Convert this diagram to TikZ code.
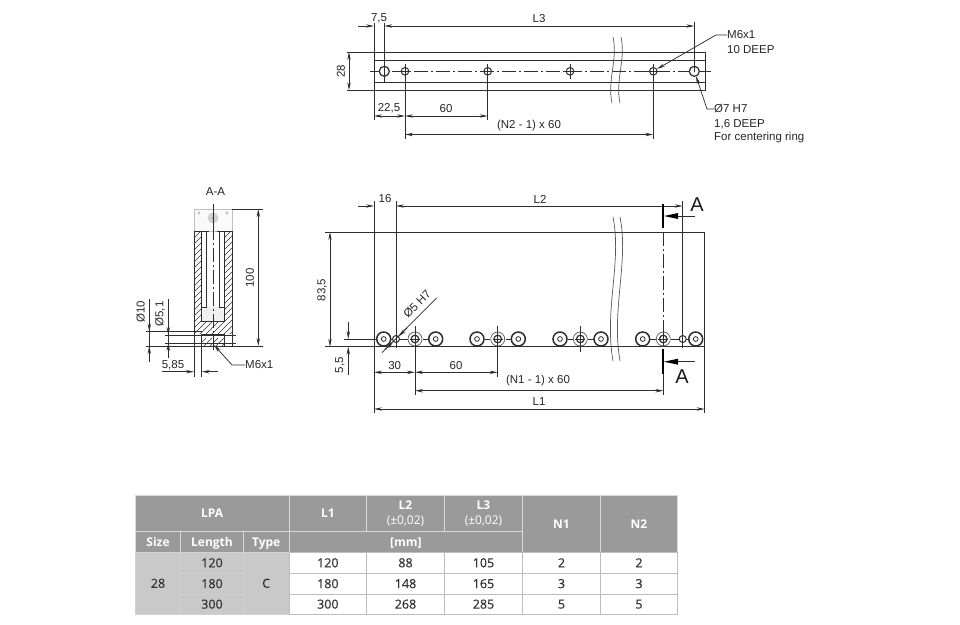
\documentclass[tikz,border=0pt]{standalone}
\usepackage{fontspec}
\setmainfont{Liberation Sans}
\newfontfamily\tablefont{Open Sans}
\newfontfamily\tablemed{Open Sans}[FakeBold=0.5]
\usetikzlibrary{arrows.meta}
\definecolor{linegray}{HTML}{2E2E2E}
\definecolor{headgray}{HTML}{9A9A9A}
\definecolor{bodygray}{HTML}{C9C9C9}
\definecolor{gridgray}{HTML}{BDBDBD}
\tikzset{
  >={Stealth[length=8pt,width=3.4pt]},
  part/.style={draw=linegray,line width=1pt},
  dimline/.style={draw=linegray,line width=.75pt},
  thinpart/.style={draw=linegray!80,line width=.7pt},
  axisline/.style={draw=linegray,line width=.75pt,dash pattern=on 14pt off 3pt on 2pt off 3pt},
  cutline/.style={draw=black,line width=2pt},
  lab/.style={font=\fontsize{11.5}{13}\selectfont,text=black!85,inner sep=0pt},
  biglab/.style={font=\fontsize{20}{22}\selectfont,text=black!90,inner sep=0pt},
  headcell/.style={fill=headgray,draw=white!85!black,line width=.8pt},
  bodycell/.style={fill=white,draw=gridgray,line width=.8pt},
  sidecell/.style={fill=bodygray,draw=gridgray!70!white,line width=.8pt},
  headtext/.style={font=\tablefont\fontsize{12}{14}\bfseries\selectfont,text=white,align=center,inner sep=0pt},
  subhead/.style={headtext,text height=9pt,text depth=0pt},
  celltext/.style={font=\tablemed\fontsize{12.5}{14}\selectfont,text=black!80,inner sep=0pt}
}
\begin{document}
\begin{tikzpicture}[x=1pt,y=-1pt]
  \useasboundingbox (0,0) rectangle (960,624);

  % Top view
  \draw[part] (347,52) -- (705,52) -- (705,90.3) -- (347,90.3);
  \draw[part] (374,60) -- (705,60);
  \draw[part] (374,82.3) -- (705,82.3);
  \draw[axisline] (370,71.3) -- (711,71.3);
  \foreach \hx in {384.3,694.3}
    \draw[part,line width=1.2pt,fill=white] (\hx,71.3) circle[radius=5];
  \foreach \hx in {405,487.7,570,653.3} {
    \draw[part,fill=white] (\hx,71.3) circle[radius=3.8];
    \draw[dimline] (\hx-5,71.3) -- (\hx+5,71.3);
    \draw[dimline] (\hx,63.5) -- (\hx,79);
  }
  \draw[thinpart] (613,37) .. controls (618,60) and (607,80) .. (612,103);
  \draw[thinpart] (621,37) .. controls (626,60) and (615,80) .. (620,103);

  % Top view dimensions
  \draw[dimline] (374,23) -- (374,120);
  \draw[dimline] (384.3,23) -- (384.3,82);
  \draw[dimline] (694.3,22) -- (694.3,72);
  \draw[dimline] (405,64) -- (405,139);
  \draw[dimline] (487.7,64) -- (487.7,120);
  \draw[dimline] (653.3,64) -- (653.3,139);
  \draw[dimline,->] (358,26) -- (374,26);
  \draw[dimline,<->] (384.3,26) -- (694.3,26);
  \draw[dimline,<->] (349,52) -- (349,90.3);
  \draw[dimline,<->] (374,116) -- (405,116);
  \draw[dimline,<->] (405,116) -- (487.7,116);
  \draw[dimline,<->] (405,134.5) -- (653.3,134.5);
  \node[lab] (topa) at (379,18) {7,5};
  \node[lab] (topb) at (539,19) {L3};
  \node[lab,rotate=90] (topc) at (341,71) {28};
  \node[lab] (topd) at (389,108) {22,5};
  \node[lab] (tope) at (446,109) {60};
  \node[lab] (topf) at (529,126) {(N2 - 1) x 60};

  % Top view leaders
  \node[lab,anchor=west] (thread) at (727,35) {M6x1};
  \node[lab,anchor=west] (threaddeep) at (727,50) {10 DEEP};
  \node[lab,anchor=west] (ring) at (714,109) {Ø7 H7};
  \node[lab,anchor=west] (ringdeep) at (714,124) {1,6 DEEP};
  \node[lab,anchor=west] (ringuse) at (714,138) {For centering ring};
  \draw[dimline,->] (thread.west) -- (716,35) -- (657,69);
  \draw[dimline,->] (ring.west) -- (707,109) -- (696,76);

  % Front view
  \draw[part] (325,232) -- (704.7,232);
  \draw[part] (325,346.7) -- (704.7,346.7);
  \draw[part] (704.7,232) -- (704.7,413);
  \draw[part] (374,201) -- (374,413);
  \draw[axisline] (663.3,232) -- (663.3,346.7);
  \foreach \sa/\sb in {344/376,391/408,423/428,485/490,506/511,568/573,588/594,650/656,671/690}
    \draw[dimline] (\sa,339) -- (\sb,339);
  \foreach \hx in {383.7,435.7,477,518.3,560,601,642.7,695.7} {
    \draw[part,line width=1.5pt,fill=white] (\hx,339) circle[radius=7];
    \draw[part,line width=.8pt] (\hx,339) circle[radius=2.4];
  }
  \foreach \hx in {415,497.7,580.3,663.3} {
    \draw[thinpart,fill=white] (\hx,339) circle[radius=7];
    \draw[part,line width=1.2pt] (\hx,339) circle[radius=3.8];
    \draw[dimline] (\hx-5,339) -- (\hx+5,339);
  }
  \foreach \hx in {396,682.7}
    \draw[part,fill=white] (\hx,339) circle[radius=3.5];
  \draw[thinpart] (613,217) .. controls (622,262) and (604,310) .. (613,361);
  \draw[thinpart] (620,217) .. controls (629,262) and (611,310) .. (620,361);

  % Front view dimensions
  \draw[dimline] (396,201) -- (396,348);
  \draw[dimline] (682.7,201) -- (682.7,348);
  \draw[dimline] (415,326) -- (415,395);
  \draw[dimline] (497.7,326) -- (497.7,377);
  \draw[dimline] (580.3,326) -- (580.3,352);
  \draw[dimline] (663.3,326) -- (663.3,346);
  \draw[dimline] (663.3,372) -- (663.3,395);
  \draw[dimline,->] (358,206) -- (374,206);
  \draw[dimline,<->] (396,206) -- (682.7,206);
  \draw[dimline,<->] (330,232) -- (330,346.7);
  \draw[dimline,->] (348.3,322) -- (348.3,339);
  \draw[dimline,->] (348.3,375) -- (348.3,346.7);
  \draw[dimline,<->] (374,372.3) -- (415,372.3);
  \draw[dimline,<->] (415,372.3) -- (497.7,372.3);
  \draw[dimline,<->] (415,390.7) -- (663.3,390.7);
  \draw[dimline,<->] (374,409) -- (704.7,409);
  \draw[dimline] (382,352.7) -- (436.7,298);
  \draw[dimline,->] (385,349.7) -- (393.5,341.5);
  \draw[dimline,->] (407,328) -- (398.5,336.5);
  \node[lab] (fronta) at (385,199) {16};
  \node[lab] (frontb) at (540,199) {L2};
  \node[lab,rotate=90] (frontc) at (322,290) {83,5};
  \node[lab,rotate=90] (frontd) at (340,365) {5,5};
  \node[lab] (fronte) at (394.7,366) {30};
  \node[lab] (frontf) at (456,366) {60};
  \node[lab] (frontg) at (538,381) {(N1 - 1) x 60};
  \node[lab] (fronth) at (539,402) {L1};
  \node[lab,rotate=45] (frontj) at (417,304) {Ø5 H7};

  % Section marks
  \draw[cutline] (663.3,204) -- (663.3,228);
  \draw[cutline] (663.3,349) -- (663.3,374);
  \draw[dimline] (695,216) -- (672,216);
  \draw[dimline] (695,361.7) -- (672,361.7);
  \fill[black] (664,216) -- (678,213) -- (678,219) -- cycle;
  \fill[black] (664,361.7) -- (678,358.7) -- (678,364.7) -- cycle;
  \node[biglab] (markup) at (697,205) {A};
  \node[biglab] (markdown) at (682,377) {A};

  % Section A-A, faded end plate
  \draw[draw=black!25,fill=black!2,line width=.5pt] (194,209) rectangle (232,231.7);
  \fill[black!18] (213,218) circle[radius=5.5];
  \fill[black!50] (213,218) circle[radius=1];
  \foreach \hx in {199,227}
    \draw[black!30,line width=.5pt] (\hx,213) circle[radius=1.3];

  % Section A-A, hatched walls
  \begin{scope}
    \clip (194,231.7) -- (201.7,231.7) -- (201.7,321.7) -- (224.3,321.7) -- (224.3,231.7)
      -- (232.7,231.7) -- (232.7,334) -- (194,334) -- cycle;
    \foreach \hy in {230,236,...,380}
      \draw[linegray,line width=.65pt] (190,\hy) -- (240,\hy-50);
  \end{scope}
  \begin{scope}
    \clip (202,338) rectangle (224,346);
    \foreach \hy in {330,336,...,400}
      \draw[linegray,line width=.65pt] (190,\hy) -- (240,\hy-50);
  \end{scope}
  \fill[black!6] (201.7,321.7) .. controls (202,312) and (204,307) .. (206.7,307)
    -- (219.3,307) .. controls (222,307) and (224,312) .. (224.3,321.7) -- cycle;
  \draw[part] (194,346) -- (194,231.7) -- (201.7,231.7) -- (201.7,321.7) -- (224.3,321.7)
    -- (224.3,231.7) -- (232.7,231.7) -- (232.7,346) -- cycle;
  \draw[part] (206.7,231.7) -- (206.7,307) -- (201.7,307);
  \draw[part] (219.3,231.7) -- (219.3,307) -- (224.3,307);
  \draw[part] (201.7,231.7) -- (209,231.7);
  \draw[part] (217,231.7) -- (224.3,231.7);
  \draw[part] (201.7,334) rectangle (224.3,346);
  \draw[dimline] (213,204) -- (213,226);
  \draw[axisline] (213,226) -- (213,350);

  % Section A-A dimensions
  \draw[dimline] (146,331.7) -- (201.7,331.7);
  \draw[dimline] (146,346) -- (194,346);
  \draw[dimline] (165,335) -- (236,335);
  \draw[dimline] (165,343) -- (236,343);
  \draw[dimline] (149.3,299) -- (149.3,361.7);
  \draw[dimline] (168.3,299) -- (168.3,358);
  \draw[dimline,->] (149.3,320) -- (149.3,331.7);
  \draw[dimline,->] (149.3,358) -- (149.3,346);
  \draw[dimline,->] (168.3,323) -- (168.3,335);
  \draw[dimline,->] (168.3,355) -- (168.3,343);
  \draw[dimline] (194,346) -- (194,377);
  \draw[dimline] (201.7,346) -- (201.7,377);
  \draw[dimline,->] (162,371.7) -- (194,371.7);
  \draw[dimline,->] (218,371.7) -- (201.7,371.7);
  \draw[dimline] (232,209) -- (263,209);
  \draw[dimline] (233,346) -- (263,346);
  \draw[dimline,<->] (258.3,209) -- (258.3,346);
  \node[lab] (secname) at (215.5,192) {A-A};
  \node[lab,rotate=90] (seca) at (140.7,312) {Ø10};
  \node[lab,rotate=90] (secb) at (160,314) {Ø5,1};
  \node[lab] (secc) at (173,365) {5,85};
  \node[lab,rotate=90] (secd) at (250,278) {100};
  \node[lab,anchor=west] (secthread) at (245,365) {M6x1};
  \draw[dimline,->] (secthread.west) -- (232,365) -- (214,345);

  % Table head
  \draw[headcell] (135.3,495.7) rectangle node[headtext] (tlpa) {LPA} (289,531.3);
  \draw[headcell] (289,495.7) rectangle node[headtext] (tlone) {L1} (366.7,531.3);
  \draw[headcell] (366.7,495.7) rectangle node[headtext] (tltwo) {L2\\[1.5pt]{\mdseries (±0,02)}} (444.3,531.3);
  \draw[headcell] (444.3,495.7) rectangle node[headtext] (tlthree) {L3\\[1.5pt]{\mdseries (±0,02)}} (522.7,531.3);
  \draw[headcell] (522.7,495.7) rectangle node[headtext] (tnone) {N1} (600.3,552.3);
  \draw[headcell] (600.3,495.7) rectangle node[headtext] (tntwo) {N2} (677.7,552.3);
  \draw[headcell] (135.3,531.3) rectangle node[subhead] (tsize) {Size} (180.7,552.3);
  \draw[headcell] (180.7,531.3) rectangle node[subhead] (tlength) {Length} (243.3,552.3);
  \draw[headcell] (243.3,531.3) rectangle node[subhead] (ttype) {Type} (289,552.3);
  \draw[headcell] (289,531.3) rectangle node[subhead] (tmm) {[mm]} (522.7,552.3);

  % Table body
  \draw[sidecell] (135.3,552.3) rectangle node[celltext] (tsizeval) {28} (180.7,614.3);
  \draw[sidecell] (243.3,552.3) rectangle node[celltext] (ttypeval) {C} (289,614.3);
  \foreach \ya/\yb/\la/\lb/\lc/\ld/\ne [count=\r] in
      {552.3/573.3/120/120/88/105/2,573.3/594/180/180/148/165/3,594/614.3/300/300/268/285/5} {
    \draw[sidecell] (180.7,\ya) rectangle node[celltext] (tlen\r) {\la} (243.3,\yb);
    \draw[bodycell] (289,\ya) rectangle node[celltext] (tla\r) {\lb} (366.7,\yb);
    \draw[bodycell] (366.7,\ya) rectangle node[celltext] (tlb\r) {\lc} (444.3,\yb);
    \draw[bodycell] (444.3,\ya) rectangle node[celltext] (tlc\r) {\ld} (522.7,\yb);
    \draw[bodycell] (522.7,\ya) rectangle node[celltext] (tna\r) {\ne} (600.3,\yb);
    \draw[bodycell] (600.3,\ya) rectangle node[celltext] (tnb\r) {\ne} (677.7,\yb);
  }
\end{tikzpicture}
\end{document}
